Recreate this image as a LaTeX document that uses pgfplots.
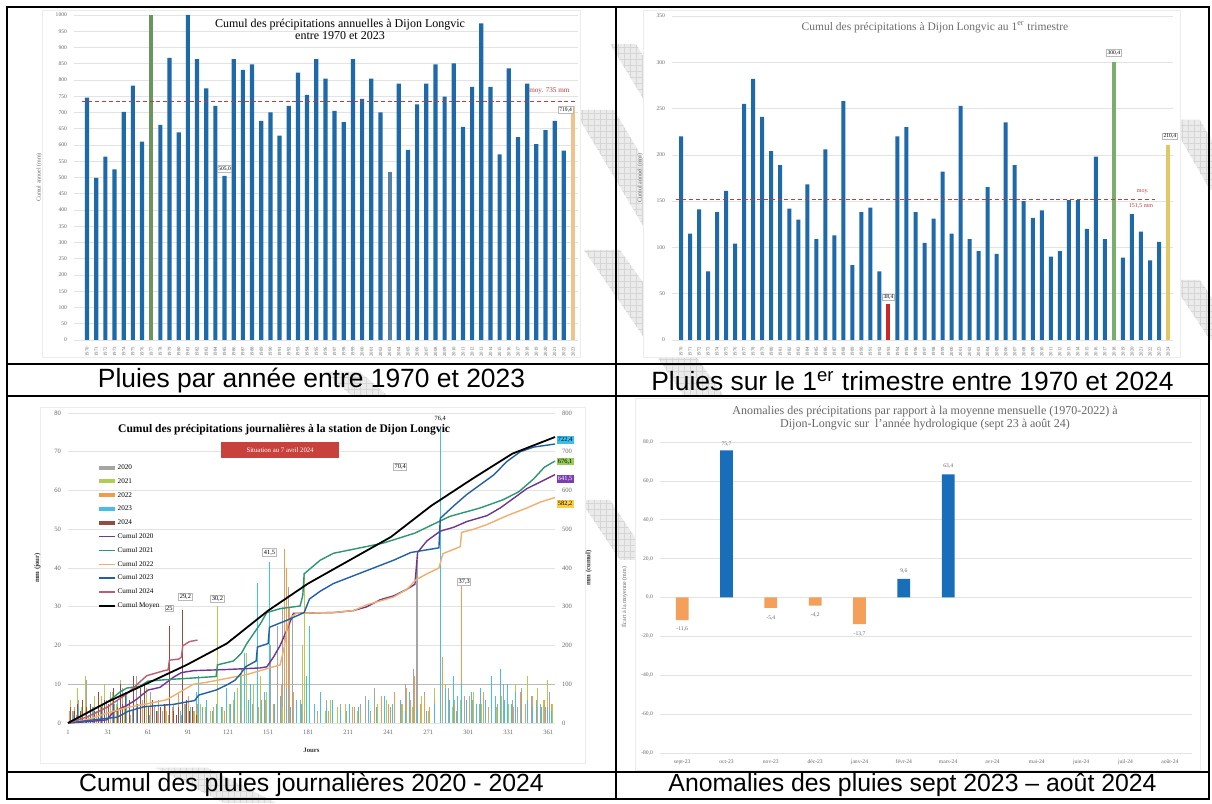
\documentclass[border=0pt]{standalone}
\usepackage{pgfplots}
\pgfplotsset{compat=1.18}
\usetikzlibrary{patterns}
\usepackage{fontspec}
\setmainfont{Liberation Serif}
\newfontfamily\arial{Liberation Sans}
\newcommand\fs[1]{\fontsize{#1}{#1}\selectfont}
\definecolor{bblue}{RGB}{30,105,170}
\definecolor{bgreen}{RGB}{105,150,95}
\definecolor{blight}{RGB}{85,130,170}
\definecolor{borange}{RGB}{240,195,140}
\definecolor{bred}{RGB}{200,40,40}
\definecolor{byellow}{RGB}{225,200,100}
\definecolor{trgreen}{RGB}{120,175,110}
\definecolor{meanred}{RGB}{190,60,60}
\definecolor{lbl}{RGB}{105,105,105}
\definecolor{c2020}{RGB}{165,165,165}
\definecolor{c2021}{RGB}{175,205,80}
\definecolor{c2022}{RGB}{240,155,80}
\definecolor{c2023}{RGB}{70,190,230}
\definecolor{c2024}{RGB}{150,75,65}
\definecolor{k2020}{RGB}{110,55,145}
\definecolor{k2021}{RGB}{45,150,115}
\definecolor{k2022}{RGB}{240,175,110}
\definecolor{k2023}{RGB}{35,95,165}
\definecolor{k2024}{RGB}{185,95,115}
\definecolor{sitred}{RGB}{200,65,60}
\definecolor{aorange}{RGB}{245,160,90}
\definecolor{ablue}{RGB}{25,110,185}
\definecolor{ycyan}{RGB}{60,190,235}
\definecolor{ygreen}{RGB}{150,205,90}
\definecolor{ypurple}{RGB}{125,60,175}
\definecolor{yyellow}{RGB}{250,205,70}
\tikzset{boxl/.style={draw=gray!55, fill=white, inner sep=0.5pt, font=\fs{2.8}},
  wm/.style={fill=gray!16, postaction={pattern=grid, pattern color=gray!32}}}
\pgfplotsset{
  base/.style={scale only axis, anchor=north west, clip=false,
    axis line style={draw=none}, tick style={draw=none},
    ticklabel style={font=\fs{2.8}, text=lbl},
    /pgf/number format/assume math mode=true,
    /pgf/number format/1000 sep={},
    ymajorgrids, grid style={gray!22, line width=0.3pt},
    label style={font=\fs{3}, text=lbl}},
}
\begin{document}
\begin{tikzpicture}
\path[fill=white] (0,0) rectangle (606pt,-401.5pt);
% watermark bands
\begin{scope}
\clip (0,0) rectangle (606pt,-401.5pt);
\path[wm] (305pt,-22pt) -- (318pt,-22pt) -- (335pt,-50pt) -- (322pt,-50pt) -- cycle;
\path[wm] (287pt,-55pt) -- (307pt,-55pt) -- (347pt,-122pt) -- (327pt,-122pt) -- cycle;
\path[wm] (292pt,-125pt) -- (310pt,-125pt) -- (362pt,-198pt) -- (342pt,-198pt) -- cycle;
\path[wm] (585pt,-60pt) -- (600pt,-60pt) -- (620pt,-95pt) -- (605pt,-95pt) -- cycle;
\path[wm] (585pt,-140pt) -- (600pt,-140pt) -- (620pt,-170pt) -- (605pt,-170pt) -- cycle;
\path[wm] (290pt,-250pt) -- (305pt,-250pt) -- (325pt,-280pt) -- (310pt,-280pt) -- cycle;
\path[wm] (78pt,-384pt) -- (104pt,-384pt) -- (138pt,-401.5pt) -- (112pt,-401.5pt) -- cycle;
\path[wm] (162pt,-186pt) -- (180pt,-186pt) -- (194pt,-198pt) -- (176pt,-198pt) -- cycle;
\end{scope}
% image frames
\draw[gray!15, fill=white, line width=0.4pt] (21pt,-5pt) rectangle (290pt,-178.5pt);
\draw[gray!15, fill=white, line width=0.4pt] (321.5pt,-5pt) rectangle (590pt,-178.5pt);
\draw[gray!15, fill=white, line width=0.4pt] (20pt,-203.5pt) rectangle (292.5pt,-381.5pt);
\draw[gray!15, fill=white, line width=0.4pt] (317.5pt,-199pt) rectangle (600pt,-385pt);

%================ Chart 1 =================
\begin{axis}[base, at={(37pt,-7.5pt)}, width=252.25pt, height=162.5pt,
  xmin=-1.42, xmax=53.6, ymin=0, ymax=1000,
  ytick={0,50,...,1000}, xtick={0,...,53},
  xticklabels={1970,1971,1972,1973,1974,1975,1976,1977,1978,1979,1980,1981,1982,1983,1984,1985,1986,1987,1988,1989,1990,1991,1992,1993,1994,1995,1996,1997,1998,1999,2000,2001,2002,2003,2004,2005,2006,2007,2008,2009,2010,2011,2012,2013,2014,2015,2016,2017,2018,2019,2020,2021,2022,2023},
  xticklabel style={rotate=90, anchor=east, font=\fs{2.4}},
  ylabel={Cumul annuel (mm)}]
\addplot[ybar, bar width=2.1pt, bar shift=0pt, fill=bblue, draw=none] coordinates {
(0,746) (1,499) (2,564) (3,525) (4,702) (5,783) (6,610) (8,662) (9,868) (10,639)
(11,1000) (12,864) (13,774) (14,720) (15,505) (16,864) (17,831) (18,848) (19,674) (20,700)
(21,629) (22,720) (23,823) (24,754) (25,864) (26,804) (27,705) (28,670) (29,864) (30,742)
(31,804) (32,700) (34,789) (35,585) (36,725) (37,789) (38,848) (39,749) (40,851)
(41,656) (42,779) (43,974) (44,779) (45,571) (46,836) (47,624) (48,789) (49,603) (50,646)
(51,674) (52,583)};
\addplot[ybar, bar width=2.1pt, bar shift=0pt, fill=bgreen, draw=none] coordinates {(7,1000)};
\addplot[ybar, bar width=2.1pt, bar shift=0pt, fill=blight, draw=none] coordinates {(33,516)};
\addplot[ybar, bar width=2.1pt, bar shift=0pt, fill=borange, draw=none] coordinates {(53,719.4)};
\addplot[meanred, line width=0.6pt, dash pattern=on 2pt off 1.4pt] coordinates {(-0.6,735) (53.5,735)};
\node[font=\fs{3.6}, text=meanred, anchor=east] at (axis cs:53.4,768) {moy. 735 mm};
\node[boxl] at (axis cs:15,527) {505,0};
\node[boxl] at (axis cs:52.2,708) {719,4};
\end{axis}
\node[font=\fontsize{6}{6}\selectfont, align=center] at (170pt,-14.5pt) {Cumul des précipitations annuelles à Dijon Longvic\\entre 1970 et 2023};

%================ Chart 2 =================
\begin{axis}[base, at={(336pt,-8pt)}, width=250.5pt, height=162pt,
  xmin=-1.0, xmax=54.55, ymin=0, ymax=350,
  ytick={0,50,...,350}, xtick={0,...,54},
  xticklabels={1970,1971,1972,1973,1974,1975,1976,1977,1978,1979,1980,1981,1982,1983,1984,1985,1986,1987,1988,1989,1990,1991,1992,1993,1994,1995,1996,1997,1998,1999,2000,2001,2002,2003,2004,2005,2006,2007,2008,2009,2010,2011,2012,2013,2014,2015,2016,2017,2018,2019,2020,2021,2022,2023,2024},
  xticklabel style={rotate=90, anchor=east, font=\fs{2.4}},
  ylabel={Cumul annuel (mm)}]
\addplot[ybar, bar width=2pt, bar shift=0pt, fill=bblue, draw=none] coordinates {
(0,220) (1,115) (2,141) (3,74) (4,138) (5,161) (6,104) (7,255) (8,282) (9,241)
(10,204) (11,189) (12,142) (13,130) (14,168) (15,109) (16,206) (17,113) (18,258) (19,81)
(20,138) (21,143) (22,74) (24,220) (25,230) (26,138) (27,105) (28,131) (29,182)
(30,115) (31,253) (32,109) (33,96) (34,165) (35,93) (36,235) (37,189) (38,150) (39,132)
(40,140) (41,90) (42,96) (43,151) (44,151) (45,120) (46,198) (47,109) (49,89)
(50,136) (51,117) (52,86) (53,106)};
\addplot[ybar, bar width=2pt, bar shift=0pt, fill=bred, draw=none] coordinates {(23,38.4)};
\addplot[ybar, bar width=2pt, bar shift=0pt, fill=trgreen, draw=none] coordinates {(48,300.4)};
\addplot[ybar, bar width=2pt, bar shift=0pt, fill=byellow, draw=none] coordinates {(54,210.4)};
\addplot[meanred, line width=0.6pt, dash pattern=on 2pt off 1.4pt] coordinates {(-0.6,151.5) (52.6,151.5)};
\node[font=\fs{3}, text=meanred] at (axis cs:51.2,160) {moy.};
\node[font=\fs{3}, text=meanred] at (axis cs:51,145) {151,5 mm};
\node[boxl] at (axis cs:23,46) {38,4};
\node[boxl] at (axis cs:48,310) {300,4};
\node[boxl] at (axis cs:54.2,220) {210,4};
\end{axis}
\node[font=\fs{5.75}, text=gray!85!black] at (467.5pt,-13.5pt) {Cumul des précipitations à Dijon Longvic au 1\textsuperscript{er} trimestre};

%================ Chart 3 (daily, left axis) =================
\begin{axis}[base, at={(34pt,-206.5pt)}, width=243.5pt, height=155pt,
  xmin=1, xmax=366, ymin=0, ymax=80,
  ytick={0,10,...,80}, xtick={1,31,...,361},
  ticklabel style={font=\fs{3.3}},
  ylabel={\bfseries mm (jour)}, xlabel={\bfseries Jours},
  label style={font=\fs{3.4}, text=black!80}]
\draw[gray!55, line width=0.4pt] (axis cs:1,10) -- (axis cs:366,10);
\addplot[ycomb, c2020, line width=0.45pt] coordinates {
(4,3) (7,2) (9,6) (11,4) (15,11) (19,4) (24,3) (27,5) (30,6) (33,8) (36,5) (39,3) (42,9) (45,5) (47,4)
(50,7) (52,12) (55,3) (57,6) (60,4) (63,8) (66,4) (69,6) (72,3) (76,2) (80,5) (86,2) (92,3) (98,5)
(104,3) (110,4) (118,2) (125,3) (133,4) (139,5) (146,6) (153,20) (158,25) (162,30) (166,35) (169,28)
(175,6) (180,4) (188,3) (195,6) (205,5) (210,3) (216,4) (220,5) (224,7) (228,3) (231,9) (238,6)
(243,4) (246,8) (250,5) (254,10) (258,6) (260,14) (262,40) (263,42) (268,8) (272,4) (276,6) (282,5)
(286,9) (292,3) (298,7) (304,6) (309,5) (314,4) (318,8) (323,5) (327,10) (331,3) (334,6) (338,4)
(341,9) (345,5) (348,7) (352,6) (355,5) (359,4) (362,8)};
\addplot[ycomb, c2021, line width=0.45pt] coordinates {
(3,6) (5,3) (8,9) (11,4) (14,12) (18,5) (21,7) (25,4) (28,10) (31,3) (34,8) (37,5) (40,11) (43,4)
(45,6) (49,3) (53,4) (57,5) (60,9) (66,2) (75,3) (84,2) (96,3) (100,5) (104,4) (108,3) (113,30.2)
(117,4) (122,5) (125,6) (128,9) (131,14) (135,18) (140,10) (145,12) (150,8) (156,5) (162,4) (170,5)
(177,20) (178,38) (182,10) (186,4) (190,8) (194,3) (198,6) (203,4) (209,5) (218,3) (226,4) (233,5)
(240,6) (246,3) (252,5) (259,4) (266,7) (271,3) (276,9) (280,5) (284,10) (289,4) (295,6) (300,3)
(305,8) (311,5) (318,9) (322,4) (326,7) (331,5) (336,10) (340,4) (345,12) (349,5) (353,9) (357,6)
(360,11) (364,5)};
\addplot[ycomb, c2022, line width=0.45pt] coordinates {
(2,3) (6,4) (10,2) (14,3) (18,5) (22,3) (26,7) (30,4) (33,6) (38,3) (44,5) (48,2) (52,3) (57,4)
(63,6) (68,3) (74,5) (79,4) (84,8) (88,5) (91,7) (95,3) (98,5) (104,3) (110,4) (118,3) (125,4)
(131,3) (138,5) (144,4) (149,6) (155,5) (161,10) (163,45) (165,40) (167,30) (170,8) (178,3)
(188,2) (196,3) (205,2) (214,4) (220,3) (226,6) (231,4) (236,7) (241,5) (246,8) (251,5) (255,9)
(258,6) (261,12) (265,5) (268,7) (272,4) (276,6) (280,20) (282,17) (287,5) (291,6) (296,37.3)
(302,7) (307,5) (312,8) (316,4) (321,6) (325,5) (330,9) (335,4) (340,8) (344,5) (349,7) (353,4)
(358,6) (363,5)};
\addplot[ycomb, c2023, line width=0.45pt] coordinates {
(5,2) (9,4) (12,3) (16,2) (20,4) (25,3) (30,3) (34,5) (38,6) (42,4) (45,8) (49,3) (52,5) (55,3)
(58,4) (62,2) (66,3) (73,2) (80,4) (85,3) (89,5) (93,4) (97,8) (99,12) (102,4) (105,6) (109,3)
(112,5) (116,4) (120,9) (123,5) (126,8) (130,12) (133,18) (136,6) (138,10) (143,36) (146,5) (148,8)
(152,41.5) (156,5) (160,7) (165,9) (168,4) (172,6) (176,5) (180,12) (182,25) (186,5) (190,8) (195,4)
(199,6) (205,3) (212,5) (219,4) (226,6) (232,4) (238,7) (244,5) (250,6) (254,3) (257,8) (263,4)
(270,3) (276,5) (280,76.4) (284,9) (287,6) (290,12) (293,7) (296,10) (300,6) (303,8) (307,5)
(310,9) (314,6) (318,12) (321,7) (325,14) (328,6) (330,10) (333,5) (336,8) (341,5) (345,6) (349,4)
(352,5) (356,4) (360,4) (363,3)};
\addplot[ycomb, c2024, line width=0.45pt] coordinates {
(3,4) (6,3) (8,5) (10,3) (12,6) (15,4) (18,5) (21,3) (24,8) (26,4) (28,6) (31,5) (35,9) (38,4)
(40,10) (42,5) (44,8) (47,6) (50,12) (53,5) (55,9) (58,10) (61,4) (64,6) (67,3) (70,4) (73,5)
(77,25) (80,3) (82,2) (84,4) (87,29.2) (90,6) (92,3) (94,4) (97,2)};
\node[fill=sitred, text=white, font=\fs{3.4}, minimum width=59pt, minimum height=8pt, inner sep=0pt] at (axis cs:160,70.5) {Situation au 7 avril 2024};
\node[font=\bfseries\fs{5.8}] at (axis cs:163,75.8) {Cumul des précipitations journalières à la station de Dijon Longvic};
\node[boxl, font=\fs{3.2}] at (axis cs:77,29.6) {25};
\node[boxl, font=\fs{3.2}] at (axis cs:89,32.5) {29,2};
\node[boxl, font=\fs{3.2}] at (axis cs:113,32) {30,2};
\node[boxl, font=\fs{3.2}] at (axis cs:152,44) {41,5};
\node[boxl, font=\fs{3.2}] at (axis cs:250,66) {70,4};
\node[font=\fs{3.2}] at (axis cs:280,78.6) {76,4};
\node[boxl, font=\fs{3.2}] at (axis cs:298,36.5) {37,3};
\end{axis}

%================ Chart 3 (cumul, right axis) =================
\begin{axis}[base, at={(34pt,-206.5pt)}, width=243.5pt, height=155pt,
  xmin=1, xmax=366, ymin=0, ymax=800, ymajorgrids=false,
  ytick={0,100,...,800},
  axis y line*=right, axis x line=none,
  ticklabel style={font=\fs{3.3}},
  ylabel={\bfseries mm (cumul)},
  label style={font=\fs{3.4}, text=black!80},
  legend style={at={(0.047,0.85)}, anchor=north west, draw=none, fill=none,
    font=\fs{3.6}, row sep=3.1pt,
    nodes={inner sep=0.2pt, text height=2.6pt, text depth=0.8pt}},
  legend cell align=left,
  legend image code/.code={\draw[#1] (0pt,0pt) -- (8pt,0pt);}]
\addlegendimage{c2020, line width=2pt}\addlegendentry{2020}
\addlegendimage{c2021, line width=2pt}\addlegendentry{2021}
\addlegendimage{c2022, line width=2pt}\addlegendentry{2022}
\addlegendimage{c2023, line width=2pt}\addlegendentry{2023}
\addlegendimage{c2024, line width=2pt}\addlegendentry{2024}
\addplot[k2020, line width=0.7pt] coordinates {
(1,0) (15,3) (30,8) (35,28) (45,45) (52,60) (61,85) (70,92) (80,118) (86,130) (95,135) (120,138)
(145,142) (150,145) (155,170) (160,200) (165,240) (170,283) (200,285) (215,290) (225,300)
(235,318) (245,328) (255,345) (261,358) (262,398) (263,440) (270,470) (280,495) (290,505)
(300,520) (315,535) (325,555) (335,580) (345,605) (355,622) (366,641)};
\addlegendentry{Cumul 2020}
\addplot[k2021, line width=0.7pt] coordinates {
(1,0) (10,15) (20,35) (31,55) (40,80) (45,90) (55,95) (61,108) (75,112) (90,115) (112,120)
(113,150) (125,160) (131,180) (135,205) (140,230) (145,255) (150,285) (160,295) (175,302)
(177,330) (178,385) (190,420) (200,438) (237,464) (261,490) (287,533) (310,555) (327,576)
(339,597) (350,630) (358,660) (366,676)};
\addlegendentry{Cumul 2021}
\addplot[k2022, line width=0.7pt] coordinates {
(1,0) (15,8) (30,25) (45,40) (61,50) (75,60) (85,80) (95,100) (105,105) (120,115) (135,125)
(150,140) (160,150) (163,195) (165,240) (167,270) (172,283) (200,285) (215,290) (225,305)
(235,315) (245,325) (255,345) (262,370) (270,385) (279,400) (282,437) (295,455) (296,492)
(305,500) (315,512) (330,535) (345,555) (355,570) (366,582)};
\addlegendentry{Cumul 2022}
\addplot[k2023, line width=0.7pt] coordinates {
(1,0) (20,8) (38,15) (46,30) (58,42) (80,48) (96,58) (99,72) (112,85) (121,100) (126,110)
(130,125) (134,145) (142,160) (143,196) (151,205) (152,247) (165,265) (178,285) (182,320)
(190,340) (200,360) (215,380) (230,400) (245,420) (258,440) (279,452) (280,528) (290,560)
(300,590) (310,615) (320,640) (330,675) (340,700) (350,712) (366,720)};
\addlegendentry{Cumul 2023}
\addplot[k2024, line width=0.7pt] coordinates {
(1,0) (15,15) (30,40) (45,75) (60,122) (73,135) (76,137) (77,162) (84,165) (86,170) (87,199)
(92,210) (98,214)};
\addlegendentry{Cumul 2024}
\addplot[black, line width=0.9pt] coordinates {
(1,0) (31,55) (59,100) (90,150) (120,205) (151,290) (181,360) (212,420) (243,480) (273,560)
(304,630) (334,695) (366,738)};
\addlegendentry{Cumul Moyen}
\node[fill=ycyan, anchor=west, inner sep=0.6pt, font=\fs{3.2}] at (axis cs:367,731) {722,4};
\node[fill=ygreen, anchor=west, inner sep=0.6pt, font=\fs{3.2}] at (axis cs:367,675) {676,1};
\node[fill=ypurple, text=white, anchor=west, inner sep=0.6pt, font=\fs{3.2}] at (axis cs:367,630) {641,5};
\node[fill=yyellow, anchor=west, inner sep=0.6pt, font=\fs{3.2}] at (axis cs:367,565) {582,2};
\end{axis}

%================ Chart 4 =================
\begin{axis}[base, at={(330pt,-221pt)}, width=266pt, height=155.5pt,
  xmin=-0.5, xmax=11.5, ymin=-80, ymax=80,
  ytick={-80,-60,...,80}, xtick={0,...,11},
  xticklabels={sept-23,oct-23,nov-23,déc-23,janv-24,févr-24,mars-24,avr-24,mai-24,juin-24,juil-24,août-24},
  yticklabel style={/pgf/number format/.cd, fixed, fixed zerofill, precision=1, use comma},
  ylabel={Écart à la moyenne (mm)}]
\addplot[ybar, bar width=6.4pt, bar shift=0pt, fill=aorange, draw=none] coordinates {(0,-11.6) (2,-5.4) (3,-4.2) (4,-13.7)};
\addplot[ybar, bar width=6.4pt, bar shift=0pt, fill=ablue, draw=none] coordinates {(1,75.7) (5,9.6) (6,63.4)};
\node[font=\fs{2.8}, text=lbl] at (axis cs:0,-16) {-11,6};
\node[font=\fs{2.8}, text=lbl] at (axis cs:1,79) {75,7};
\node[font=\fs{2.8}, text=lbl] at (axis cs:2,-10.6) {-5,4};
\node[font=\fs{2.8}, text=lbl] at (axis cs:3,-9) {-4,2};
\node[font=\fs{2.8}, text=lbl] at (axis cs:4,-18.6) {-13,7};
\node[font=\fs{2.8}, text=lbl] at (axis cs:5,13.6) {9,6};
\node[font=\fs{2.8}, text=lbl] at (axis cs:6,67.5) {63,4};
\end{axis}
\node[font=\fontsize{6}{6.5}\selectfont, text=gray!80!black, align=center] at (462.5pt,-209pt) {Anomalies des précipitations par rapport à la moyenne mensuelle (1970-2022) à\\Dijon-Longvic sur \ l'année hydrologique (sept 23 à août 24)};

%================ table =================
\draw[line width=1pt] (3.5pt,-3.5pt) rectangle (604.5pt,-399.5pt);
\draw[line width=1pt] (308pt,-3.5pt) -- (308pt,-399.5pt);
\draw[line width=1pt] (3.5pt,-182pt) -- (604.5pt,-182pt);
\draw[line width=1pt] (3.5pt,-198pt) -- (604.5pt,-198pt);
\draw[line width=1pt] (3.5pt,-386pt) -- (604.5pt,-386pt);
\node[font=\arial\fontsize{13.2}{14}\selectfont] at (155.75pt,-190.5pt) {Pluies par année entre 1970 et 2023};
\node[font=\arial\fontsize{13.2}{14}\selectfont] at (456.25pt,-190.5pt) {Pluies sur le 1\textsuperscript{er} trimestre entre 1970 et 2024};
\node[font=\arial\fontsize{12.4}{13}\selectfont] at (155.75pt,-392.6pt) {Cumul des pluies journalières 2020 - 2024};
\node[font=\arial\fontsize{12.4}{13}\selectfont] at (456.25pt,-392.6pt) {Anomalies des pluies sept 2023 – août 2024};
\end{tikzpicture}
\end{document}
